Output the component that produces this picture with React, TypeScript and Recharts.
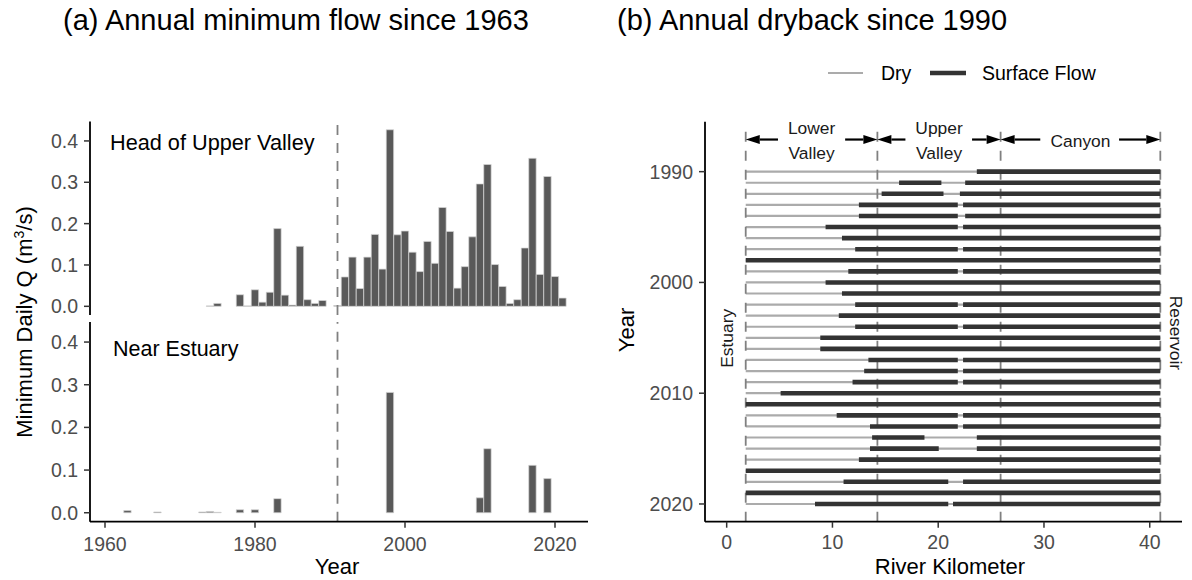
import React from 'react';
import { BarChart, Bar, LineChart, Line, XAxis, YAxis, ReferenceLine, ReferenceDot } from 'recharts';

// ---- panel (a): annual minimum flow (m3/s) ----
const headYears = [1974, 1975, 1978, 1979, 1980, 1981, 1982, 1983, 1984, 1985, 1986, 1987, 1988, 1989,
  1991, 1992, 1993, 1994, 1995, 1996, 1997, 1998, 1999, 2000, 2001, 2002, 2003, 2004, 2005, 2006,
  2007, 2008, 2009, 2010, 2011, 2012, 2013, 2014, 2015, 2016, 2017, 2018, 2019, 2020, 2021];
const headQ = [0.001, 0.007, 0.028, 0.001, 0.040, 0.010, 0.034, 0.188, 0.027, 0.003, 0.145, 0.016, 0.007, 0.014,
  0.002, 0.071, 0.119, 0.043, 0.119, 0.174, 0.090, 0.427, 0.173, 0.182, 0.131, 0.084, 0.157, 0.104, 0.239, 0.181,
  0.044, 0.096, 0.168, 0.296, 0.343, 0.101, 0.048, 0.007, 0.016, 0.141, 0.358, 0.077, 0.314, 0.072, 0.020];

const estuaryYears = [1963, 1967, 1973, 1974, 1975, 1978, 1980, 1983, 1998, 2010, 2011, 2017, 2019];
const estuaryQ = [0.005, 0.002, 0.002, 0.003, 0.001, 0.007, 0.007, 0.033, 0.282, 0.035, 0.150, 0.111, 0.080];

const yearTicks = [1960, 1980, 2000, 2020];
const qTicks = [0, 0.1, 0.2, 0.3, 0.4];
const managementYear = 1991;

// ---- panel (b): dryback, river km ----
const drybackYears = [1990, 1991, 1992, 1993, 1994, 1995, 1996, 1997, 1998, 1999, 2000, 2001, 2002, 2003, 2004,
  2005, 2006, 2007, 2008, 2009, 2010, 2011, 2012, 2013, 2014, 2015, 2016, 2017, 2018, 2019, 2020];
// wetted (surface flow) reaches per year, [from km, to km]
const flowReaches: number[][][] = [
  [[23.65, 41]],
  [[16.3, 20.3], [22.55, 41]],
  [[14.65, 20.5], [22.05, 41]],
  [[12.5, 21.85], [22.35, 41]],
  [[12.5, 21.85], [22.55, 41]],
  [[9.35, 21.85], [22.35, 41]],
  [[10.9, 41]],
  [[12.15, 21.85], [22.35, 41]],
  [[1.8, 41]],
  [[11.5, 21.85], [22.35, 41]],
  [[9.35, 41]],
  [[10.9, 41]],
  [[12.15, 21.85], [22.35, 41]],
  [[10.6, 41]],
  [[12.15, 21.85], [22.35, 41]],
  [[8.85, 41]],
  [[8.85, 41]],
  [[13.4, 21.85], [22.35, 41]],
  [[13.0, 21.85], [22.35, 41]],
  [[11.9, 21.85], [22.35, 41]],
  [[5.1, 41]],
  [[1.8, 41]],
  [[10.4, 21.85], [22.35, 41]],
  [[13.55, 21.85], [22.35, 41]],
  [[13.75, 18.7], [23.65, 41]],
  [[13.55, 20.05], [23.65, 41]],
  [[12.5, 41]],
  [[1.8, 41]],
  [[11.05, 20.95], [22.35, 41]],
  [[1.8, 41]],
  [[8.35, 20.95], [21.4, 41]],
];
const estuaryKm = 1.8;
const reservoirKm = 41;
const zoneBounds = [1.8, 14.25, 25.9, 41];
const zoneTop = 1986.4;
const zoneArrows = [[4.85, 1.8], [11.2, 14.25], [16.9, 14.25], [23.2, 25.9], [29.65, 25.9], [37.1, 41]];
const arrowYear = 1987.1;
const zoneNames = [['Lower', 'Valley'], ['Upper', 'Valley'], ['Canyon']];
const zoneCenters = [8.03, 20.08, 33.45];
const kmTicks = [0, 10, 20, 30, 40];
const drybackTicks = [1990, 2000, 2010, 2020];

const FONT = '"Liberation Sans", Arial, Helvetica, sans-serif';
const TICK = { fill: '#4d4d4d', fontSize: 19.5, fontFamily: FONT };
const AXIS_LINE = { stroke: '#000', strokeWidth: 1.8 };
const TICK_LINE = { stroke: '#333', strokeWidth: 1.5 };
const Q_DOMAIN = [-0.021, 0.447];
const YEAR_DOMAIN = [1958, 2024.4];
const KM_DOMAIN = [-2.05, 43.05];
const DRY_DOMAIN = [1985.49, 2021.6];

const headData = headYears.map((year, i) => ({ year, q: headQ[i] }));
const estuaryData = estuaryYears.map((year, i) => ({ year, q: estuaryQ[i] }));

// line tables for panel (b): pairs of points, separated by null breaks
const dryData = drybackYears.flatMap((yr) => [
  { km: estuaryKm, yr }, { km: reservoirKm, yr }, { km: reservoirKm, yr: null },
]);
const flowData = drybackYears.flatMap((yr, i) =>
  flowReaches[i].flatMap(([a, b]) => [{ km: a, yr }, { km: b, yr }, { km: b, yr: null }])
);
const zoneData = zoneBounds.flatMap((b) => [
  { km: b, yr: zoneTop }, { km: b, yr: DRY_DOMAIN[1] }, { km: b, yr: null },
]);

const Arrow = (props: any) => {
  const { x1, y1, x2, y2 } = props;
  const dir = x2 > x1 ? 1 : -1;
  const len = 14;
  const half = 4.5;
  return (
    <g>
      <line x1={x1} y1={y1} x2={x2 - dir * len} y2={y2} stroke="#000" strokeWidth={2.2} />
      <polygon points={`${x2},${y2} ${x2 - dir * len},${y2 - half} ${x2 - dir * len},${y2 + half}`} fill="#000" />
    </g>
  );
};

const labelShape = (text: string, angle = 0) => (props: any) => {
  const { cx, cy } = props;
  return (
    <text x={cx} y={cy} dy="0.36em" textAnchor="middle" fontSize={17.4} fontFamily={FONT} fill="#1a1a1a"
      transform={angle ? `rotate(${angle}, ${cx}, ${cy})` : undefined}>
      {text}
    </text>
  );
};

const App: React.FC = () => {
  return (
    <div style={{ position: 'absolute', left: 0, top: 0, width: 1192, height: 580, background: '#fff', fontFamily: FONT }}>
      {/* (a) top facet */}
      <div style={{ position: 'absolute', left: 0, top: 0 }}>
        <BarChart width={600} height={320} data={headData} margin={{ top: 121.5, right: 12, left: 0, bottom: 5 }}>
          <XAxis type="number" dataKey="year" domain={YEAR_DOMAIN} hide allowDataOverflow />
          <YAxis type="number" domain={Q_DOMAIN} ticks={qTicks} width={90} allowDataOverflow
            tickFormatter={(v: number) => v.toFixed(1)} tick={TICK} tickSize={6} tickMargin={6}
            axisLine={AXIS_LINE} tickLine={TICK_LINE} />
          <ReferenceLine x={managementYear} stroke="#808080" strokeWidth={1.8} strokeDasharray="10 8" />
          <Bar dataKey="q" fill="#595959" stroke="#d6d6d6" strokeWidth={0.7} barSize={7.4} isAnimationActive={false} />
        </BarChart>
      </div>
      {/* (a) bottom facet */}
      <div style={{ position: 'absolute', left: 0, top: 300 }}>
        <BarChart width={600} height={280} data={estuaryData} margin={{ top: 22, right: 12, left: 0, bottom: 28.3 }}>
          <XAxis type="number" dataKey="year" domain={YEAR_DOMAIN} ticks={yearTicks} height={30} allowDataOverflow
            tick={TICK} tickSize={6} tickMargin={9} axisLine={AXIS_LINE} tickLine={TICK_LINE} />
          <YAxis type="number" domain={Q_DOMAIN} ticks={qTicks} width={90} allowDataOverflow
            tickFormatter={(v: number) => v.toFixed(1)} tick={TICK} tickSize={6} tickMargin={6}
            axisLine={AXIS_LINE} tickLine={TICK_LINE} />
          <ReferenceLine x={managementYear} stroke="#808080" strokeWidth={1.8} strokeDasharray="10 8" />
          <Bar dataKey="q" fill="#595959" stroke="#d6d6d6" strokeWidth={0.7} barSize={7.4} isAnimationActive={false} />
        </BarChart>
      </div>

      {/* (b) dryback */}
      <div style={{ position: 'absolute', left: 600, top: 0 }}>
        <LineChart width={592} height={580} margin={{ top: 121.7, right: 10, left: 0, bottom: 28.3 }}>
          <XAxis type="number" dataKey="km" domain={KM_DOMAIN} ticks={kmTicks} height={30} allowDataOverflow
            tick={TICK} tickSize={6} tickMargin={7} axisLine={AXIS_LINE} tickLine={TICK_LINE} />
          <YAxis type="number" dataKey="yr" domain={DRY_DOMAIN} ticks={drybackTicks} reversed width={105} allowDataOverflow
            tick={TICK} tickSize={6} tickMargin={6} axisLine={AXIS_LINE} tickLine={TICK_LINE} />
          <Line data={dryData} dataKey="yr" type="linear" stroke="#ababab" strokeWidth={2.2} dot={false}
            activeDot={false} connectNulls={false} isAnimationActive={false} />
          <Line data={zoneData} dataKey="yr" type="linear" stroke="#808080" strokeWidth={1.8} strokeDasharray="10 9"
            dot={false} activeDot={false} connectNulls={false} isAnimationActive={false} />
          <Line data={flowData} dataKey="yr" type="linear" stroke="#333333" strokeWidth={4.6} dot={false}
            activeDot={false} connectNulls={false} isAnimationActive={false} />
          {zoneArrows.map(([tail, head], i) => (
            <ReferenceLine key={`arrow-${i}`} segment={[{ x: tail, y: arrowYear }, { x: head, y: arrowYear }]}
              ifOverflow="visible" shape={Arrow} />
          ))}
          {zoneNames.map((lines, i) =>
            lines.map((t, j) => (
              <ReferenceDot key={`zn-${i}-${j}`} x={zoneCenters[i]} y={lines.length === 1 ? 1987.2 : 1986.06 + j * 2.25}
                r={0} ifOverflow="visible" shape={labelShape(t)} />
            ))
          )}
          <ReferenceDot x={0} y={2005.04} r={0} ifOverflow="visible" shape={labelShape('Estuary', -90)} />
          <ReferenceDot x={42.5} y={2004.56} r={0} ifOverflow="visible" shape={labelShape('Reservoir', 90)} />
        </LineChart>
      </div>

      {/* titles, axis titles, annotations, legend */}
      <svg width={1192} height={580} style={{ position: 'absolute', left: 0, top: 0, pointerEvents: 'none' }}
        fontFamily={FONT}>
        <text x={63} y={30} fontSize={29} fill="#000">(a) Annual minimum flow since 1963</text>
        <text x={617} y={30} fontSize={29} fill="#000">(b) Annual dryback since 1990</text>
        <text x={110} y={150} fontSize={21.7} fill="#000">Head of Upper Valley</text>
        <text x={113} y={356} fontSize={21.5} fill="#000">Near Estuary</text>
        <text x={32} y={322} fontSize={22} fill="#000" textAnchor="middle" transform="rotate(-90, 32, 322)">
          Minimum Daily Q (m<tspan dy={-8} fontSize={14}>3</tspan><tspan dy={8}>/s)</tspan>
        </text>
        <text x={337} y={574} fontSize={22} fill="#000" textAnchor="middle">Year</text>
        <text x={950} y={574} fontSize={22} fill="#000" textAnchor="middle">River Kilometer</text>
        <text x={634} y={330} fontSize={22} fill="#000" textAnchor="middle" transform="rotate(-90, 634, 330)">Year</text>
        <line x1={828} y1={73} x2={863} y2={73} stroke="#ababab" strokeWidth={2.2} />
        <text x={881} y={80} fontSize={19.5} fill="#000">Dry</text>
        <line x1={930} y1={73} x2={966} y2={73} stroke="#333333" strokeWidth={4.6} />
        <text x={982} y={80} fontSize={19.5} fill="#000">Surface Flow</text>
      </svg>
    </div>
  );
};

export default App;
